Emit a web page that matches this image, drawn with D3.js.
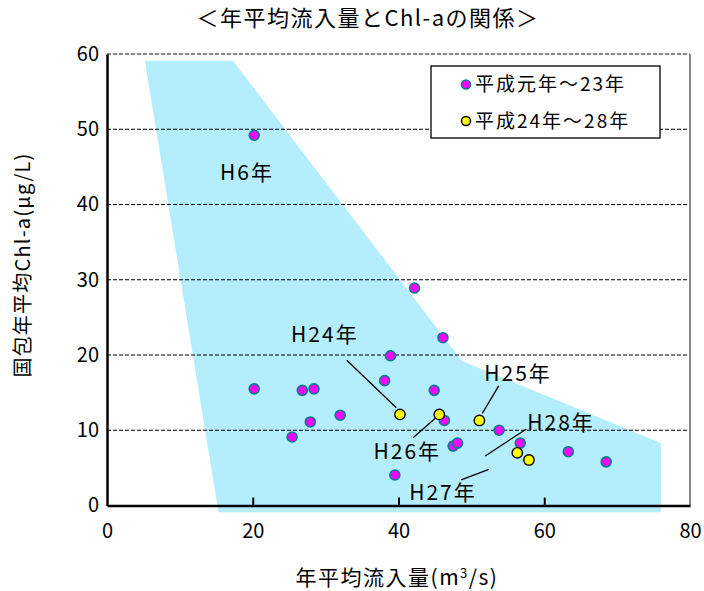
<!DOCTYPE html>
<html>
<head>
<meta charset="utf-8">
<script src="https://cdn.jsdelivr.net/npm/d3@7"></script>
<style>
  body { margin: 0; background: #fff; }
  text { font-family: "Noto Sans CJK JP", sans-serif; fill: #000; }
</style>
</head>
<body>
<svg id="chart" width="704" height="591"></svg>
<script>
// data
var earlyFlow = [20.2, 42.2, 46.1, 38.9, 38.1, 20.2, 26.8, 28.4, 44.9, 32.0, 27.9, 25.4, 46.3, 47.5, 48.1, 53.8, 56.7, 39.5, 63.3, 68.5];
var earlyChl  = [49.2, 28.9, 22.3, 19.9, 16.6, 15.5, 15.3, 15.5, 15.3, 12.0, 11.1, 9.1, 11.3, 7.9, 8.3, 10.0, 8.3, 4.05, 7.15, 5.8];
var lateFlow = [40.2, 51.1, 45.6, 57.9, 56.3];
var lateChl  = [12.1, 11.3, 12.1, 6.05, 7.0];
var bandX = [5.2, 17.3, 48.7, 76.0, 76.0, 15.3];
var bandY = [59.1, 59.1, 19.2, 8.3, -0.9, -0.9];
var xTicks = [0, 20, 40, 60, 80];
var yTicks = [0, 10, 20, 30, 40, 50, 60];
var legendLabels = ["平成元年～23年", "平成24年～28年"];
var noteText = ["H6年", "H24年", "H25年", "H26年", "H28年", "H27年"];
var noteX = [19.2, 29.9, 56.4, 41.2, 62.3, 46.1];
var noteY = [44.2, 22.7, 17.5, 7.2, 11.0, 1.7];
// leader lines: [x1, y1, x2, y2]
var leaders = [
  [32.9, 19.3, 39.7, 13.0],
  [53.75, 15.9, 51.5, 12.25],
  [42.0, 9.0, 45.05, 11.6],
  [57.55, 10.17, 51.9, 6.58],
  [52.4, 4.8, 48.6, 3.4]
];

var svg = d3.select("#chart");
var x = d3.scaleLinear().domain([0, 80]).range([107, 690]);
var y = d3.scaleLinear().domain([0, 60]).range([505.5, 54]);

// title
svg.append("text")
    .attr("x", 368).attr("y", 26)
    .attr("text-anchor", "middle")
    .style("font-size", "22px")
    .style("letter-spacing", "1.5px")
    .text("＜年平均流入量とChl-aの関係＞");

// blue band
svg.append("polygon")
    .attr("points", bandX.map(function (d, i) { return x(d) + "," + y(bandY[i]); }).join(" "))
    .attr("fill", "#b4eefc");

// gridlines
svg.append("g").selectAll("line")
    .data(yTicks.filter(function (d) { return d > 0; }))
    .enter().append("line")
    .attr("x1", x(0)).attr("x2", x(80))
    .attr("y1", function (d) { return y(d); })
    .attr("y2", function (d) { return y(d); })
    .attr("stroke", function (d) { return d == 60 ? "#888" : "#000"; })
    .attr("stroke-width", function (d) { return d == 60 ? 2 : 1.2; })
    .attr("stroke-dasharray", "4,2");

// right border
svg.append("line")
    .attr("x1", x(80)).attr("x2", x(80)).attr("y1", y(60)).attr("y2", y(0))
    .attr("stroke", "#888").attr("stroke-width", 2);

// axes
var xAxis = svg.append("g")
    .attr("transform", "translate(0," + y(0) + ")")
    .call(d3.axisBottom(x).tickValues(xTicks).tickSizeInner(-8).tickSizeOuter(0).tickPadding(14));
var yAxis = svg.append("g")
    .attr("transform", "translate(" + x(0) + ",0)")
    .call(d3.axisLeft(y).tickValues(yTicks).tickSize(0).tickPadding(8));
[xAxis, yAxis].forEach(function (a) {
    a.select(".domain").attr("stroke", "#000").attr("stroke-width", 2.5);
    a.selectAll(".tick line").attr("stroke", "#000").attr("stroke-width", 2);
    a.selectAll(".tick text")
        .style("font-family", "'Noto Sans CJK JP', sans-serif")
        .style("font-size", "20px")
        .attr("fill", "#000");
});
xAxis.selectAll(".tick text").attr("dy", "0.9em");
xAxis.selectAll(".tick").filter(function (d) { return d == 0 || d == 80; }).select("line").remove();

// axis titles
svg.append("text")
    .attr("x", 397).attr("y", 585)
    .attr("text-anchor", "middle")
    .style("font-size", "21px")
    .style("letter-spacing", "1.5px")
    .html("年平均流入量(m<tspan dy='-7' font-size='13'>3</tspan><tspan dy='7'>/s)</tspan>");
svg.append("text")
    .attr("transform", "translate(30,265) rotate(-90)")
    .attr("text-anchor", "middle")
    .style("font-size", "20px")
    .style("letter-spacing", "1.2px")
    .text("国包年平均Chl-a(μg/L)");

// leader lines
svg.append("g").selectAll("line")
    .data(leaders)
    .enter().append("line")
    .attr("x1", function (d) { return x(d[0]); })
    .attr("y1", function (d) { return y(d[1]); })
    .attr("x2", function (d) { return x(d[2]); })
    .attr("y2", function (d) { return y(d[3]); })
    .attr("stroke", "#000").attr("stroke-width", 1.3);

// annotation labels
svg.append("g").selectAll("text")
    .data(noteText)
    .enter().append("text")
    .attr("x", function (d, i) { return x(noteX[i]); })
    .attr("y", function (d, i) { return y(noteY[i]); })
    .attr("dy", "0.35em")
    .attr("text-anchor", "middle")
    .style("font-size", "21px")
    .style("letter-spacing", "2px")
    .text(function (d) { return d; });

// points
svg.append("g").selectAll("circle")
    .data(earlyFlow)
    .enter().append("circle")
    .attr("cx", function (d) { return x(d); })
    .attr("cy", function (d, i) { return y(earlyChl[i]); })
    .attr("r", 5)
    .attr("fill", "#ff00ff").attr("stroke", "#008080").attr("stroke-width", 1.6);
svg.append("g").selectAll("circle")
    .data(lateFlow)
    .enter().append("circle")
    .attr("cx", function (d) { return x(d); })
    .attr("cy", function (d, i) { return y(lateChl[i]); })
    .attr("r", 5.2)
    .attr("fill", "#ffff00").attr("stroke", "#000").attr("stroke-width", 1.4);

// legend
var legend = svg.append("g");
legend.append("rect")
    .attr("x", 431).attr("y", 66).attr("width", 229).attr("height", 72)
    .attr("fill", "#fff").attr("stroke", "#000").attr("stroke-width", 1.3);
var items = legend.selectAll(".item")
    .data(legendLabels)
    .enter().append("g")
    .attr("transform", function (d, i) { return "translate(466," + (84.5 + i * 36.5) + ")"; });
items.append("circle")
    .attr("r", 4.5)
    .attr("fill", function (d, i) { return i == 0 ? "#ff00ff" : "#ffff00"; })
    .attr("stroke", function (d, i) { return i == 0 ? "#008080" : "#000"; })
    .attr("stroke-width", 1.5);
items.append("text")
    .attr("x", 9).attr("dy", "0.35em")
    .style("font-size", "19px")
    .style("letter-spacing", "2px")
    .text(function (d) { return d; });
</script>
</body>
</html>
